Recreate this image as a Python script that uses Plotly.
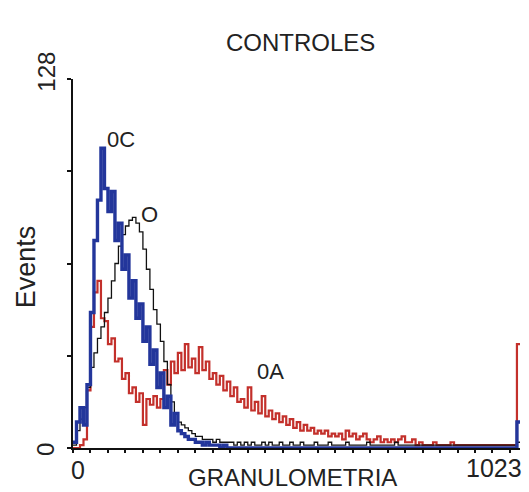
import plotly.graph_objects as go

# Histogram channels: 128 bins of 8 channels each (0..1023)
bin_width = 8
n_bins = 128

oc_blue = [2, 9, 14, 8, 22, 47, 72, 86, 104, 90,
           82, 89, 72, 78, 62, 67, 52, 58, 45, 50,
           37, 42, 29, 34, 21, 26, 14, 18, 8, 12,
           6, 5, 4, 3, 3, 2, 2, 1, 2, 1,
           1, 1, 0, 1, 0, 0, 0, 0, 0, 0,
           0, 0, 0, 0, 0, 0, 0, 0, 0, 0,
           0, 0, 0, 0, 0, 0, 0, 0, 0, 0,
           0, 0, 0, 0, 0, 0, 0, 0, 0, 0,
           0, 0, 0, 0, 0, 0, 0, 0, 0, 0,
           0, 0, 0, 0, 0, 0, 0, 0, 0, 0,
           0, 0, 0, 0, 0, 0, 0, 0, 0, 0,
           0, 0, 0, 0, 0, 0, 0, 0, 0, 0,
           0, 0, 0, 0, 0, 0, 0, 9]

o_black = [1, 6, 10, 14, 21, 28, 33, 38, 42, 47,
           52, 58, 64, 70, 74, 77, 79, 80, 78, 75,
           69, 62, 55, 48, 43, 37, 30, 22, 16, 12,
           9, 8, 7, 6, 5, 4, 4, 3, 3, 3,
           2, 3, 2, 2, 2, 2, 1, 2, 1, 2,
           1, 2, 1, 1, 2, 1, 2, 1, 1, 2,
           1, 1, 2, 1, 1, 2, 1, 1, 1, 2,
           1, 1, 1, 2, 1, 1, 1, 1, 2, 1,
           1, 1, 1, 1, 2, 1, 1, 1, 1, 1,
           1, 1, 2, 1, 1, 1, 1, 1, 1, 1,
           1, 1, 1, 1, 1, 1, 1, 1, 1, 1,
           1, 1, 1, 1, 1, 1, 1, 1, 1, 1,
           1, 1, 1, 1, 1, 1, 1, 2]

oa_red = [0, 0, 1, 3, 20, 42, 54, 58, 45, 44,
          36, 38, 30, 31, 24, 26, 19, 21, 16, 19,
          8, 17, 15, 18, 14, 17, 27, 22, 30, 26,
          33, 27, 36, 28, 31, 26, 35, 27, 30, 24,
          26, 22, 25, 20, 23, 18, 21, 16, 17, 14,
          21, 13, 16, 12, 18, 11, 13, 10, 12, 9,
          11, 8, 10, 7, 9, 6, 8, 6, 7, 5,
          6, 5, 6, 4, 5, 4, 5, 3, 6, 4,
          5, 3, 4, 5, 3, 2, 3, 4, 2, 3,
          2, 3, 2, 3, 4, 2, 2, 3, 1, 2,
          1, 1, 1, 2, 1, 1, 1, 1, 2, 1,
          1, 1, 1, 1, 1, 1, 1, 1, 1, 1,
          1, 1, 1, 1, 1, 1, 1, 36]

x_max = 1023
y_max = 128
y_ticks = [0, 32, 64, 96, 128]

x_edges = [i * bin_width for i in range(n_bins)] + [x_max]


def ext(vals):
    return list(vals) + [vals[-1]]


fig = go.Figure()
fig.add_trace(go.Scatter(x=x_edges, y=ext(oa_red), mode="lines", line_shape="hv",
                         line=dict(color="#c3302b", width=2.2), name="0A"))
fig.add_trace(go.Scatter(x=x_edges, y=ext(o_black), mode="lines", line_shape="hv",
                         line=dict(color="#111111", width=1.3), name="O"))
fig.add_trace(go.Scatter(x=x_edges, y=ext(oc_blue), mode="lines", line_shape="hv",
                         line=dict(color="#23369b", width=3.4), name="0C"))

font_family = "Liberation Sans, Arial, sans-serif"

fig.update_layout(
    width=529, height=492,
    margin=dict(l=73, r=9, t=79, b=44),
    paper_bgcolor="white", plot_bgcolor="white",
    showlegend=False,
    font=dict(family=font_family, color="#222222"),
    xaxis=dict(range=[0, x_max], showgrid=False, zeroline=False,
               showline=True, linecolor="#111111", linewidth=2,
               ticks="outside", tick0=0, dtick=40, ticklen=3, tickwidth=1.5,
               tickcolor="#111111", showticklabels=False, fixedrange=True),
    yaxis=dict(range=[0, y_max], showgrid=False, zeroline=False,
               showline=True, linecolor="#111111", linewidth=2,
               ticks="outside", tickvals=y_ticks, ticklen=4, tickwidth=1.5,
               tickcolor="#111111", showticklabels=False, fixedrange=True),
)

ann = [
    dict(text="CONTROLES", x=0.51, y=1.0976, size=24, angle=0),
    dict(text="Events", x=-0.105, y=0.49, size=27, angle=-90),
    dict(text="128", x=-0.058, y=1.02, size=24, angle=-90),
    dict(text="0", x=-0.063, y=-0.003, size=24, angle=-90),
    dict(text="0", x=0.011, y=-0.06, size=25, angle=0),
    dict(text="1023", x=0.942, y=-0.054, size=25, angle=0),
    dict(text="GRANULOMETRIA", x=0.492, y=-0.0786, size=24, angle=0),
]
for a in ann:
    fig.add_annotation(text=a["text"], x=a["x"], y=a["y"], xref="paper", yref="paper",
                       xanchor="center", yanchor="middle", showarrow=False,
                       textangle=a["angle"], font=dict(size=a["size"], color="#222222"))

curve_labels = [("0C", 110, 107), ("O", 176, 81), ("0A", 453, 26.4)]
for t, cx, cy in curve_labels:
    fig.add_annotation(text=t, x=cx, y=cy, xref="x", yref="y", showarrow=False,
                       xanchor="center", yanchor="middle",
                       font=dict(size=22, color="#222222"))

fig.write_html("out.html")
